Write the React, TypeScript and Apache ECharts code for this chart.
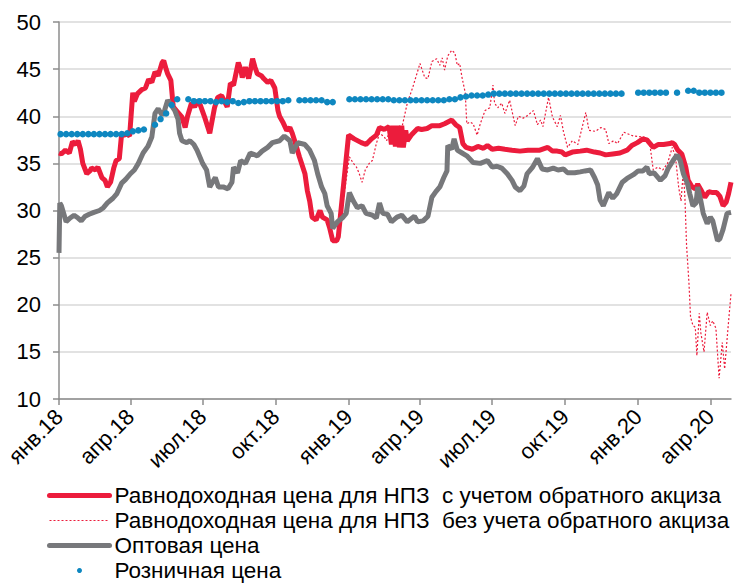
import React, { useEffect, useRef } from "react";
import * as echarts from "echarts";

const NAME_WITH = "Равнодоходная цена для НПЗ\u00a0 с учетом обратного акциза";
const NAME_WITHOUT = "Равнодоходная цена для НПЗ\u00a0 без учета обратного акциза";
const NAME_WHOLESALE = "Оптовая цена";
const NAME_RETAIL = "Розничная цена";

const monthNames = ["янв", "фев", "мар", "апр", "май", "июн", "июл", "авг", "сен", "окт", "ноя", "дек"];
const quarterTicks: [number, number][] = [
  [2018, 0], [2018, 3], [2018, 6], [2018, 9],
  [2019, 0], [2019, 3], [2019, 6], [2019, 9],
  [2020, 0], [2020, 3],
];
const axisStart = "2018-01-01";
const axisEnd = "2020-04-27";

// Equal-profit price for refineries, with reverse excise (2018 part shared with the dotted line)
const parity2018: [string, number][] = [
  ["2018-01-01", 36.1], ["2018-01-04", 36.0], ["2018-01-09", 36.4], ["2018-01-14", 36.1], ["2018-01-18", 37.3],
  ["2018-01-22", 37.0], ["2018-01-25", 37.4], ["2018-01-28", 36.5], ["2018-01-31", 35.0], ["2018-02-05", 33.9],
  ["2018-02-09", 34.2], ["2018-02-11", 34.5], ["2018-02-16", 34.3], ["2018-02-19", 34.6], ["2018-02-24", 33.5],
  ["2018-02-28", 33.2], ["2018-03-03", 32.5], ["2018-03-07", 33.0], ["2018-03-11", 34.5], ["2018-03-14", 35.3],
  ["2018-03-18", 35.5], ["2018-03-21", 38.2], ["2018-03-24", 38.0], ["2018-03-28", 38.1], ["2018-03-31", 37.9],
  ["2018-04-04", 42.5], ["2018-04-06", 41.6], ["2018-04-10", 42.4], ["2018-04-15", 42.8], ["2018-04-20", 43.0],
  ["2018-04-24", 43.9], ["2018-04-28", 43.6], ["2018-05-02", 44.7], ["2018-05-06", 44.3], ["2018-05-11", 45.7],
  ["2018-05-13", 45.9], ["2018-05-16", 45.0], ["2018-05-18", 44.5], ["2018-05-22", 43.8], ["2018-05-25", 41.0],
  ["2018-05-30", 40.5], ["2018-06-02", 40.2], ["2018-06-05", 39.9], ["2018-06-09", 38.8], ["2018-06-12", 40.0],
  ["2018-06-17", 41.4], ["2018-06-21", 41.0], ["2018-06-25", 41.7], ["2018-06-28", 41.2], ["2018-07-04", 39.8],
  ["2018-07-07", 39.0], ["2018-07-10", 38.2], ["2018-07-14", 40.0], ["2018-07-16", 40.9], ["2018-07-20", 42.0],
  ["2018-07-25", 42.2], ["2018-07-29", 41.5], ["2018-08-01", 41.0], ["2018-08-05", 43.5], ["2018-08-09", 43.3],
  ["2018-08-12", 44.5], ["2018-08-15", 45.7], ["2018-08-18", 45.0], ["2018-08-20", 44.1], ["2018-08-24", 45.2],
  ["2018-08-28", 44.0], ["2018-08-31", 45.2], ["2018-09-02", 46.1], ["2018-09-05", 45.2], ["2018-09-08", 44.5],
  ["2018-09-13", 44.3], ["2018-09-16", 44.0], ["2018-09-21", 43.6], ["2018-09-25", 43.8], ["2018-09-30", 43.0],
  ["2018-10-04", 40.6], ["2018-10-06", 40.0], ["2018-10-10", 39.4], ["2018-10-15", 38.5], ["2018-10-19", 38.8],
  ["2018-10-22", 38.2], ["2018-10-25", 37.4], ["2018-10-31", 35.7], ["2018-11-07", 33.9], ["2018-11-10", 32.1],
  ["2018-11-13", 31.0], ["2018-11-16", 29.3], ["2018-11-21", 29.0], ["2018-11-26", 30.0], ["2018-11-29", 29.3],
  ["2018-12-05", 29.0], ["2018-12-08", 28.2], ["2018-12-12", 26.8], ["2018-12-17", 26.8], ["2018-12-19", 27.2],
];

const parityWith2019: [string, number][] = [
  ["2019-01-01", 38.0], ["2019-01-08", 37.6], ["2019-01-17", 37.2], ["2019-01-23", 37.0], ["2019-01-30", 37.6],
  ["2019-02-05", 38.0], ["2019-02-09", 38.8], ["2019-02-15", 38.6], ["2019-02-21", 38.9], ["2019-02-24", 37.0],
  ["2019-02-26", 39.0], ["2019-03-01", 36.8], ["2019-03-04", 39.0], ["2019-03-06", 36.7], ["2019-03-09", 39.0],
  ["2019-03-11", 36.7], ["2019-03-14", 38.5], ["2019-03-16", 37.4], ["2019-03-21", 38.0], ["2019-03-29", 38.7],
  ["2019-04-03", 38.6], ["2019-04-10", 38.7], ["2019-04-16", 39.0], ["2019-04-26", 39.0], ["2019-05-02", 39.2],
  ["2019-05-11", 39.6], ["2019-05-16", 39.1], ["2019-05-21", 38.8], ["2019-05-25", 37.1], ["2019-05-29", 36.7],
  ["2019-06-06", 36.5], ["2019-06-13", 36.8], ["2019-06-20", 36.6], ["2019-06-25", 36.9], ["2019-07-01", 36.5],
  ["2019-07-09", 36.6], ["2019-07-17", 36.5], ["2019-07-26", 36.4], ["2019-08-05", 36.3], ["2019-08-15", 36.4],
  ["2019-08-30", 36.4], ["2019-09-09", 36.7], ["2019-09-15", 36.3], ["2019-09-21", 36.3], ["2019-09-27", 36.2],
  ["2019-10-01", 35.9], ["2019-10-10", 36.2], ["2019-10-20", 36.3], ["2019-10-28", 36.4], ["2019-11-07", 36.2],
  ["2019-11-14", 36.1], ["2019-11-21", 35.9], ["2019-11-30", 36.0], ["2019-12-09", 36.1], ["2019-12-18", 36.4],
  ["2019-12-24", 36.9], ["2019-12-31", 37.2], ["2020-01-07", 37.6], ["2020-01-12", 37.5], ["2020-01-20", 36.7],
  ["2020-01-26", 37.0], ["2020-02-02", 37.0], ["2020-02-10", 37.1], ["2020-02-13", 37.2], ["2020-02-16", 37.0],
  ["2020-02-20", 36.4], ["2020-02-25", 36.0], ["2020-03-01", 34.6], ["2020-03-04", 33.2], ["2020-03-09", 32.5],
  ["2020-03-13", 32.3], ["2020-03-16", 32.8], ["2020-03-20", 32.2], ["2020-03-25", 31.4], ["2020-03-30", 32.0],
  ["2020-04-04", 31.9], ["2020-04-09", 31.9], ["2020-04-13", 31.5], ["2020-04-17", 30.5], ["2020-04-21", 30.9],
  ["2020-04-24", 31.8], ["2020-04-27", 33.0],
];

// Equal-profit price without reverse excise, from 2019 on
const parityWithout2019: [string, number][] = [
  ["2019-01-02", 35.7], ["2019-01-07", 35.0], ["2019-01-11", 34.6], ["2019-01-14", 34.0], ["2019-01-18", 33.0],
  ["2019-01-22", 34.3], ["2019-01-27", 35.0], ["2019-01-31", 35.3], ["2019-02-05", 37.1], ["2019-02-09", 38.2],
  ["2019-02-15", 37.8], ["2019-02-18", 37.4], ["2019-02-21", 38.3], ["2019-03-03", 38.8], ["2019-03-10", 39.1],
  ["2019-03-16", 41.4], ["2019-03-23", 43.1], ["2019-04-01", 45.6], ["2019-04-07", 44.1], ["2019-04-11", 44.0],
  ["2019-04-16", 45.8], ["2019-04-22", 46.1], ["2019-04-26", 45.4], ["2019-04-29", 46.2], ["2019-05-02", 44.9],
  ["2019-05-06", 46.4], ["2019-05-11", 47.0], ["2019-05-15", 46.7], ["2019-05-18", 45.4], ["2019-05-21", 45.6],
  ["2019-05-24", 44.1], ["2019-05-28", 42.5], ["2019-05-30", 39.2], ["2019-06-03", 39.4], ["2019-06-07", 39.2],
  ["2019-06-12", 38.0], ["2019-06-16", 39.2], ["2019-06-22", 40.6], ["2019-06-28", 40.9], ["2019-07-02", 43.3],
  ["2019-07-04", 41.4], ["2019-07-08", 40.9], ["2019-07-13", 41.4], ["2019-07-17", 40.3], ["2019-07-23", 41.7],
  ["2019-07-30", 39.0], ["2019-08-03", 40.0], ["2019-08-09", 39.8], ["2019-08-15", 40.1], ["2019-08-22", 40.6],
  ["2019-08-27", 39.1], ["2019-08-31", 39.6], ["2019-09-03", 38.9], ["2019-09-10", 42.0], ["2019-09-15", 39.9],
  ["2019-09-21", 38.9], ["2019-09-25", 40.1], ["2019-09-29", 38.3], ["2019-10-04", 36.7], ["2019-10-10", 37.4],
  ["2019-10-17", 37.0], ["2019-10-20", 38.0], ["2019-10-27", 40.4], ["2019-10-31", 38.5], ["2019-11-08", 38.4],
  ["2019-11-15", 38.8], ["2019-11-21", 38.6], ["2019-11-25", 37.1], ["2019-12-01", 37.4], ["2019-12-06", 37.1],
  ["2019-12-14", 38.3], ["2019-12-26", 37.9], ["2020-01-08", 37.8], ["2020-01-15", 37.5], ["2020-01-20", 34.3],
  ["2020-01-26", 34.6], ["2020-02-01", 34.3], ["2020-02-07", 35.0], ["2020-02-13", 36.7], ["2020-02-17", 35.7],
  ["2020-02-21", 32.5], ["2020-02-24", 31.0], ["2020-02-27", 34.3], ["2020-02-29", 31.2], ["2020-03-02", 26.3],
  ["2020-03-05", 22.3], ["2020-03-07", 18.7], ["2020-03-10", 17.8], ["2020-03-13", 17.6], ["2020-03-15", 14.6],
  ["2020-03-18", 19.1], ["2020-03-20", 17.0], ["2020-03-24", 15.0], ["2020-03-28", 19.2], ["2020-04-01", 17.8],
  ["2020-04-04", 18.3], ["2020-04-08", 17.5], ["2020-04-12", 12.2], ["2020-04-16", 16.0], ["2020-04-19", 13.2],
  ["2020-04-23", 17.3], ["2020-04-27", 21.2],
];

// Wholesale price
const wholesale: [string, number][] = [
  ["2018-01-01", 25.5], ["2018-01-02", 30.8], ["2018-01-04", 30.5], ["2018-01-10", 28.8], ["2018-01-15", 29.2],
  ["2018-01-20", 29.5], ["2018-01-25", 29.2], ["2018-01-29", 28.9], ["2018-02-03", 29.4], ["2018-02-08", 29.6],
  ["2018-02-14", 29.8], ["2018-02-21", 30.0], ["2018-02-26", 30.3], ["2018-03-03", 30.8], ["2018-03-10", 31.3],
  ["2018-03-15", 31.8], ["2018-03-21", 32.9], ["2018-03-26", 33.3], ["2018-04-01", 33.9], ["2018-04-06", 34.3],
  ["2018-04-11", 35.0], ["2018-04-17", 36.1], ["2018-04-23", 36.8], ["2018-04-28", 37.8], ["2018-05-02", 40.3],
  ["2018-05-06", 40.8], ["2018-05-11", 40.1], ["2018-05-14", 40.6], ["2018-05-18", 41.7], ["2018-05-23", 41.1],
  ["2018-05-27", 40.6], ["2018-05-31", 39.7], ["2018-06-02", 38.2], ["2018-06-05", 37.4], ["2018-06-11", 37.2],
  ["2018-06-15", 37.4], ["2018-06-20", 37.0], ["2018-06-24", 36.4], ["2018-07-01", 35.0], ["2018-07-06", 34.3],
  ["2018-07-10", 32.5], ["2018-07-17", 33.5], ["2018-07-21", 32.5], ["2018-07-27", 32.5], ["2018-08-02", 32.3],
  ["2018-08-07", 33.0], ["2018-08-09", 34.6], ["2018-08-14", 34.0], ["2018-08-18", 35.3], ["2018-08-24", 35.0],
  ["2018-08-30", 36.1], ["2018-09-08", 35.8], ["2018-09-14", 36.3], ["2018-09-21", 36.7], ["2018-09-27", 37.2],
  ["2018-10-06", 37.4], ["2018-10-12", 37.9], ["2018-10-19", 37.4], ["2018-10-22", 36.1], ["2018-10-29", 37.2],
  ["2018-11-07", 37.0], ["2018-11-13", 36.4], ["2018-11-19", 35.3], ["2018-11-23", 33.9], ["2018-11-28", 32.5],
  ["2018-12-02", 31.8], ["2018-12-05", 30.5], ["2018-12-10", 29.7], ["2018-12-12", 28.1], ["2018-12-18", 28.8],
  ["2018-12-24", 29.2], ["2018-12-29", 29.7], ["2019-01-02", 31.9], ["2019-01-07", 31.0], ["2019-01-12", 30.3],
  ["2019-01-18", 30.5], ["2019-01-23", 29.7], ["2019-01-31", 29.5], ["2019-02-05", 29.2], ["2019-02-09", 30.8],
  ["2019-02-13", 29.7], ["2019-02-19", 29.6], ["2019-02-24", 28.8], ["2019-03-03", 29.3], ["2019-03-09", 29.5],
  ["2019-03-16", 28.8], ["2019-03-25", 29.4], ["2019-03-29", 28.8], ["2019-04-05", 28.9], ["2019-04-11", 29.4],
  ["2019-04-16", 31.4], ["2019-04-21", 32.0], ["2019-04-26", 32.5], ["2019-05-01", 33.5], ["2019-05-05", 34.2],
  ["2019-05-06", 36.9], ["2019-05-11", 36.5], ["2019-05-14", 37.6], ["2019-05-18", 36.4], ["2019-05-24", 36.1],
  ["2019-05-30", 35.8], ["2019-06-07", 35.1], ["2019-06-16", 35.0], ["2019-06-25", 35.3], ["2019-07-01", 34.6],
  ["2019-07-07", 34.7], ["2019-07-13", 34.5], ["2019-07-20", 33.9], ["2019-07-26", 33.2], ["2019-07-30", 32.5],
  ["2019-08-05", 32.1], ["2019-08-10", 32.6], ["2019-08-14", 33.9], ["2019-08-21", 34.6], ["2019-08-27", 35.5],
  ["2019-09-02", 34.4], ["2019-09-09", 34.3], ["2019-09-16", 34.5], ["2019-09-22", 34.3], ["2019-09-29", 34.4],
  ["2019-10-04", 34.0], ["2019-10-13", 34.0], ["2019-10-20", 34.1], ["2019-10-26", 34.2], ["2019-11-02", 34.3],
  ["2019-11-07", 33.5], ["2019-11-11", 32.7], ["2019-11-14", 31.1], ["2019-11-18", 30.5], ["2019-11-25", 31.9],
  ["2019-11-30", 31.3], ["2019-12-05", 31.8], ["2019-12-12", 33.0], ["2019-12-18", 33.4], ["2019-12-26", 33.8],
  ["2020-01-01", 34.2], ["2020-01-07", 34.2], ["2020-01-12", 34.6], ["2020-01-15", 33.9], ["2020-01-21", 34.0],
  ["2020-01-29", 33.2], ["2020-02-04", 33.7], ["2020-02-08", 34.5], ["2020-02-14", 35.3], ["2020-02-19", 35.9],
  ["2020-02-23", 35.3], ["2020-02-27", 33.9], ["2020-03-03", 32.9], ["2020-03-06", 31.8], ["2020-03-10", 30.5],
  ["2020-03-14", 30.8], ["2020-03-16", 32.5], ["2020-03-20", 31.0], ["2020-03-23", 29.7], ["2020-03-28", 28.6],
  ["2020-04-01", 29.3], ["2020-04-04", 28.9], ["2020-04-08", 27.5], ["2020-04-10", 26.8], ["2020-04-13", 27.0],
  ["2020-04-17", 28.0], ["2020-04-22", 29.7], ["2020-04-27", 29.8],
];

// Retail price, one reading per week starting on this date (null = no reading)
const retailFirstWeek = "2018-01-03";
const retailWeekly: (number | null)[] = [
  38.1, 38.1, 38.1, 38.1, 38.1, 38.1, 38.1, 38.1, 38.1, 38.1,
  38.1, 38.1, 38.2, 38.4, 38.5, 38.6, null, 39.1, 39.7, 40.3,
  41.2, 41.8, null, 41.8, 41.6, 41.6, 41.6, 41.6, 41.5, 41.6,
  41.5, 41.6, 41.4, 41.5, 41.6, 41.6, 41.6, 41.6, 41.6, 41.6,
  41.6, 41.7, null, 41.7, 41.7, 41.7, 41.7, 41.7, 41.5, 41.5,
  null, null, 41.8, 41.8, 41.8, 41.8, 41.8, 41.8, 41.8, 41.8,
  41.7, 41.7, 41.7, 41.7, 41.7, 41.7, 41.7, 41.7, 41.7, 41.7,
  41.8, 41.8, 42.0, 42.1, 42.2, 42.2, 42.2, 42.3, 42.4, 42.4,
  42.4, 42.4, 42.4, 42.4, 42.4, 42.4, 42.4, 42.4, 42.4, 42.4,
  42.4, 42.4, 42.4, 42.4, 42.4, 42.4, 42.4, 42.4, 42.4, 42.4,
  42.4, 42.4, null, null, 42.5, 42.5, 42.5, 42.5, 42.5, 42.5,
  null, 42.5, null, 42.7, 42.7, 42.5, 42.5, 42.5, 42.5, 42.5,
];

const COLOR_RED = "#EC1C3C";
const COLOR_GRAY = "#77787B";
const COLOR_BLUE = "#0E87C0";
const FONT = "'Liberation Sans', Arial, sans-serif";

const parseLocal = (s: string) => {
  const [y, m, d] = s.split("-").map(Number);
  return new Date(y, m - 1, d).getTime();
};
const toPoints = (arr: [string, number][]) => arr.map(([d, v]) => [parseLocal(d), v]);

export default function App() {
  const ref = useRef<HTMLDivElement>(null);

  useEffect(() => {
    if (!ref.current) return;
    const chart = echarts.init(ref.current, undefined, { renderer: "svg" });

    const start = new Date(parseLocal(retailFirstWeek));
    const retailData = retailWeekly
      .map((v, i) => {
        const d = new Date(start.getFullYear(), start.getMonth(), start.getDate() + i * 7);
        return [d.getTime(), v];
      })
      .filter((p) => p[1] !== null);
    const tickValues = quarterTicks.map(([y, m]) => new Date(y, m, 1).getTime());

    chart.setOption({
      animation: false,
      backgroundColor: "#ffffff",
      textStyle: { fontFamily: FONT },
      grid: { left: 59, right: 8, top: 22, bottom: 184, containLabel: false },
      xAxis: {
        type: "value",
        min: parseLocal(axisStart),
        max: parseLocal(axisEnd),
        axisLine: { show: true, lineStyle: { color: "#8c8c8c", width: 1.5 } },
        axisTick: { show: true, length: 6, customValues: tickValues, lineStyle: { color: "#8c8c8c", width: 1.5 } },
        axisLabel: {
          customValues: tickValues,
          rotate: 45,
          margin: 14,
          fontSize: 22,
          color: "#000",
          fontFamily: FONT,
          formatter: (v: number) => {
            const d = new Date(v);
            return monthNames[d.getMonth()] + "." + String(d.getFullYear()).slice(2);
          },
        },
        splitLine: { show: false },
      },
      yAxis: {
        type: "value",
        min: 10,
        max: 50,
        interval: 5,
        axisLine: { show: true, lineStyle: { color: "#8c8c8c", width: 1.5 } },
        axisTick: { show: true, length: 6, lineStyle: { color: "#8c8c8c", width: 1.5 } },
        axisLabel: { fontSize: 22, color: "#000", margin: 18, fontFamily: FONT },
        splitLine: { show: true, lineStyle: { color: "#d9d9d9", width: 1.5 } },
      },
      legend: {
        orient: "vertical",
        left: 47,
        top: 484,
        height: 140,
        padding: 0,
        itemWidth: 60,
        itemHeight: 5,
        itemGap: 2,
        textStyle: { fontSize: 22.5, color: "#000", fontFamily: FONT, lineHeight: 23 },
        data: [
          { name: NAME_WITH, itemStyle: { opacity: 0 }, lineStyle: { width: 5, cap: "round" } },
          { name: NAME_WITHOUT, itemStyle: { opacity: 0 }, lineStyle: { width: 1.2 } },
          { name: NAME_WHOLESALE, itemStyle: { opacity: 0 }, lineStyle: { width: 5, cap: "round" } },
          { name: NAME_RETAIL, icon: "circle", itemStyle: { color: COLOR_BLUE, opacity: 1 } },
        ],
      },
      series: [
        {
          name: NAME_WITHOUT,
          type: "line",
          data: toPoints([...parity2018, ...parityWithout2019]),
          showSymbol: false,
          symbol: "none",
          lineStyle: { color: COLOR_RED, width: 1.2, type: [2, 2] },
          itemStyle: { color: COLOR_RED },
          z: 2,
        },
        {
          name: NAME_WITH,
          type: "line",
          data: toPoints([...parity2018, ...parityWith2019]),
          showSymbol: false,
          symbol: "none",
          lineStyle: { color: COLOR_RED, width: 5 },
          itemStyle: { color: COLOR_RED },
          z: 3,
        },
        {
          name: NAME_WHOLESALE,
          type: "line",
          data: toPoints(wholesale),
          showSymbol: false,
          symbol: "none",
          lineStyle: { color: COLOR_GRAY, width: 5 },
          itemStyle: { color: COLOR_GRAY },
          z: 4,
        },
        {
          name: NAME_RETAIL,
          type: "scatter",
          data: retailData,
          symbol: "circle",
          symbolSize: 6.5,
          itemStyle: { color: COLOR_BLUE, opacity: 1 },
          z: 5,
        },
      ],
    });

    return () => chart.dispose();
  }, []);

  return <div ref={ref} style={{ width: 739, height: 583, position: "absolute", left: 0, top: 0 }} />;
}
